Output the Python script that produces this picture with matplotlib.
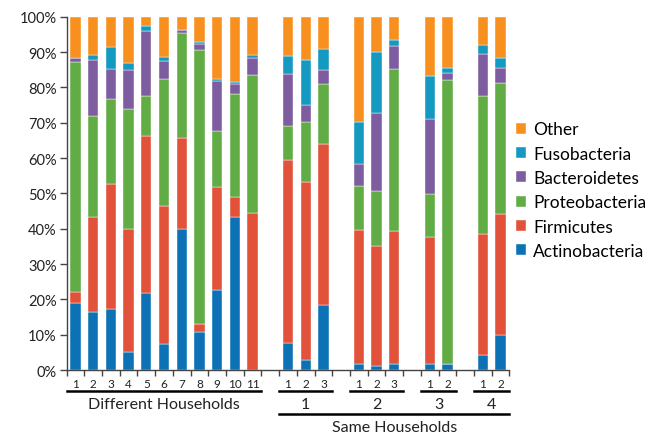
import numpy as np
import matplotlib
matplotlib.use("Agg")
import matplotlib.pyplot as plt

plt.rcParams['font.family'] = ['Lato', 'DejaVu Sans']

# sample labels and slot positions (blank slots separate the groups)
tick_labels = ['1', '2', '3', '4', '5', '6', '7', '8', '9', '10', '11',
               '1', '2', '3', '1', '2', '3', '1', '2', '1', '2']
slots = [0, 1, 2, 3, 4, 5, 6, 7, 8, 9, 10,
         12, 13, 14, 16, 17, 18, 20, 21, 23, 24]

# relative abundance (%) per phylum
actinobacteria = [18.9, 16.3, 17.3, 5.0, 21.8, 7.4, 39.8, 10.9, 22.8, 43.2, 0.0,
                  7.6, 2.9, 18.5, 1.8, 1.2, 1.6, 1.6, 1.6, 4.4, 9.9]
firmicutes = [3.1, 26.9, 35.4, 34.8, 44.5, 39.1, 25.8, 2.0, 28.9, 5.8, 44.6,
              52.0, 50.4, 45.6, 37.9, 34.0, 37.7, 36.1, 0.0, 34.2, 34.2]
proteobacteria = [65.2, 28.6, 24.1, 34.0, 11.2, 35.9, 29.9, 77.8, 15.9, 29.2, 39.0,
                  9.6, 17.0, 16.8, 12.4, 15.4, 45.9, 12.1, 80.6, 39.1, 37.2]
bacteroidetes = [1.1, 16.1, 8.4, 11.1, 18.5, 5.0, 0.8, 1.5, 14.1, 2.7, 4.7,
                 14.7, 4.6, 4.0, 6.2, 22.3, 6.5, 21.4, 1.8, 11.9, 4.2]
fusobacteria = [0.0, 1.2, 6.3, 2.1, 1.5, 1.3, 0.0, 0.6, 0.7, 0.7, 1.0,
                4.9, 12.9, 6.1, 11.9, 17.2, 1.8, 12.0, 1.5, 2.4, 2.8]
other = [11.7, 10.9, 8.5, 13.0, 2.5, 11.3, 3.7, 7.2, 17.6, 18.4, 10.7,
         11.2, 12.2, 9.0, 29.8, 9.9, 6.5, 16.8, 14.5, 8.0, 11.7]

phyla = ['Actinobacteria', 'Firmicutes', 'Proteobacteria',
         'Bacteroidetes', 'Fusobacteria', 'Other']
series = [actinobacteria, firmicutes, proteobacteria,
          bacteroidetes, fusobacteria, other]
colors = ['#0C72B5', '#E2513A', '#62AC46', '#7E5CA0', '#1499C0', '#F7901E']

# group brackets: (first slot, last slot, label)
groups1 = [(0, 10, 'Different Households'), (12, 14, '1'), (16, 18, '2'),
           (20, 21, '3'), (23, 24, '4')]
groups2 = [(12, 24, 'Same Households')]

fig = plt.figure(figsize=(6.59, 4.35), dpi=100)
ax = fig.add_axes([0.101, 0.147, 0.672, 0.812])

x = np.array(slots)
bottom = np.zeros(len(slots))
handles = []
for name, vals, c in zip(phyla, series, colors):
    vals = np.array(vals)
    b = ax.bar(x, vals, width=0.58, bottom=bottom, color=c, label=name,
               edgecolor='#ffffff', linewidth=0.3)
    handles.append(b)
    bottom += vals

ax.set_xlim(-0.5, 24.5)
ax.set_ylim(0, 100)
ax.set_yticks(np.arange(0, 101, 10))
ax.set_yticklabels([f'{v}%' for v in range(0, 101, 10)], fontsize=10.5, color='#222222')
ax.set_xticks(np.arange(-0.5, 25, 1))
ax.set_xticklabels([])
ax.tick_params(axis='y', length=5, width=1, color='#444444', pad=2)
ax.tick_params(axis='x', length=4, width=1, color='#444444')
for s in ['top', 'right']:
    ax.spines[s].set_visible(False)
for s in ['left', 'bottom']:
    ax.spines[s].set_color('#444444')
    ax.spines[s].set_linewidth(1)

tr = ax.get_xaxis_transform()
for xs, lab in zip(slots, tick_labels):
    ax.text(xs, -0.037, lab, transform=tr, ha='center', va='center', fontsize=8.5, color='#222222')

for a, b_, lab in groups1:
    ax.plot([a - 0.5, b_ + 0.5], [-0.06, -0.06], transform=tr, color='black', lw=1.8, clip_on=False)
    ax.text((a + b_) / 2, -0.095, lab, transform=tr, ha='center', va='center',
            fontsize=11.5, color='#222222')
for a, b_, lab in groups2:
    ax.plot([a - 0.5, b_ + 0.5], [-0.125, -0.125], transform=tr, color='black', lw=1.8, clip_on=False)
    ax.text((a + b_) / 2, -0.161, lab, transform=tr, ha='center', va='center',
            fontsize=11.5, color='#222222')

fig.legend(handles[::-1], phyla[::-1], loc='upper left', bbox_to_anchor=(0.772, 0.735),
           frameon=False, fontsize=12.5, handlelength=0.6, handleheight=0.6,
           handletextpad=0.4, labelspacing=0.48, borderaxespad=0)

fig.savefig('out.png', dpi=100)
